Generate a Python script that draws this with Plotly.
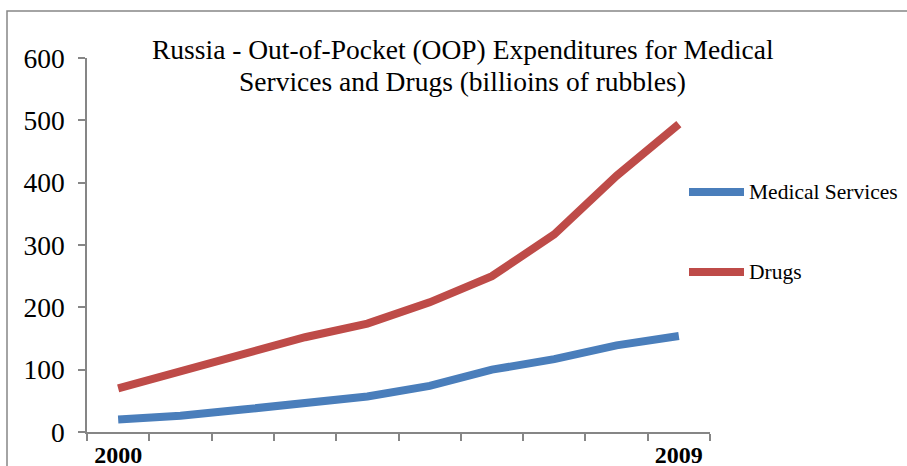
import plotly.graph_objects as go

years = [str(y) for y in range(2000, 2010)]
year_labels = ["2000", "", "", "", "", "", "", "", "", "2009"]
medical_services = [20, 26, 36, 45, 57, 74, 100, 117, 139, 154]
drugs = [70, 97, 125, 152, 174, 208, 250, 317, 411, 494]
y_ticks = [0, 100, 200, 300, 400, 500, 600]
title_lines = ["Russia - Out-of-Pocket (OOP) Expenditures for Medical",
               "Services and Drugs (billioins of rubbles)"]
series_names = ["Medical Services", "Drugs"]
colors = ["#4A7EBB", "#BE4B48"]

FONT = "Liberation Serif"
L, R, T, B = 87, 710, 58, 432
W, H = R - L, B - T


def px(x):
    return (x - L) / W


def py(y):
    return (B - y) / H


fig = go.Figure()
for name, vals, col in zip(series_names, [medical_services, drugs], colors):
    fig.add_trace(go.Scatter(x=years, y=vals, mode="lines", name=name,
                             line=dict(color=col, width=8), showlegend=False))

fig.update_layout(
    width=907, height=466,
    margin=dict(l=L, r=907 - R, t=T, b=466 - B, autoexpand=False),
    paper_bgcolor="white", plot_bgcolor="white",
    font=dict(family=FONT, color="black"),
    showlegend=False,
    xaxis=dict(type="category", tickmode="array", tickvals=years, ticktext=year_labels,
               range=[-0.5, 9.5], tickson="boundaries", ticks="outside", ticklen=7,
               tickcolor="#868686", tickwidth=1.5, automargin=False,
               showline=True, linecolor="#868686", linewidth=1.5, showgrid=False, zeroline=False,
               tickfont=dict(size=24, family=FONT, color="black", weight="bold")),
    yaxis=dict(range=[0, 600], tickvals=y_ticks, ticks="outside", ticklen=7, tickcolor="#868686",
               tickwidth=1.5, showline=True, linecolor="#868686", linewidth=1.5, showgrid=False,
               zeroline=False, ticklabelstandoff=8, automargin=False,
               tickfont=dict(size=27.5, family=FONT, color="black")),
)

# title (two lines)
for text, yy in zip(title_lines, [50, 81]):
    fig.add_annotation(text=text, xref="paper", yref="paper", x=px(463), y=py(yy),
                       xanchor="center", yanchor="middle", showarrow=False,
                       font=dict(size=27.5, family=FONT, color="black"))

# legend
for name, col, yy in zip(series_names, colors, [192, 272]):
    fig.add_shape(type="line", xref="paper", yref="paper", x0=px(689), x1=px(744),
                  y0=py(yy), y1=py(yy), line=dict(color=col, width=8))
    fig.add_annotation(text=name, xref="paper", yref="paper", x=px(747), y=py(yy),
                       xanchor="left", yanchor="middle", showarrow=False,
                       font=dict(size=21.5, family=FONT, color="black"))

# chart frame (cropped at right and bottom)
fig.add_shape(type="rect", xref="paper", yref="paper",
              x0=px(7), x1=px(920), y0=py(475), y1=py(11),
              line=dict(color="#868686", width=1.5), fillcolor="rgba(0,0,0,0)", layer="below")

fig.write_html("out.html")
